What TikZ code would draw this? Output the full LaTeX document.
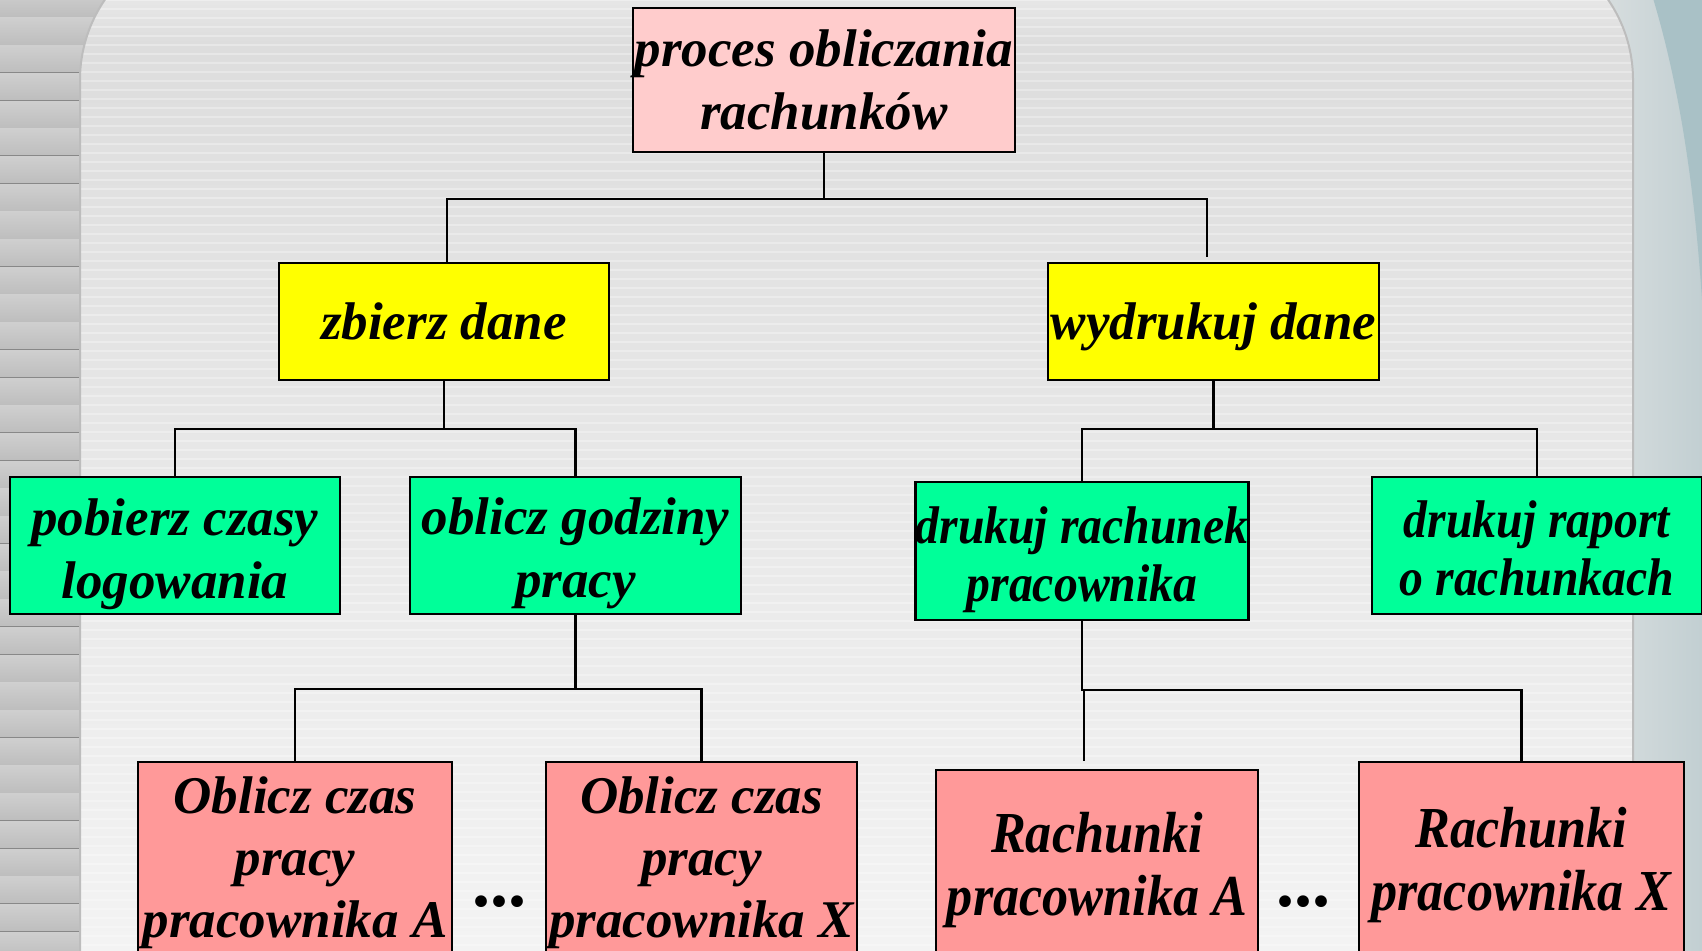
\documentclass[tikz,border=0pt]{standalone}
\usepackage{fontspec}
\setmainfont{Liberation Serif}
\newfontfamily\narrowserif{Liberation Serif}[FakeStretch=0.9]
\usetikzlibrary{calc,fadings}

\definecolor{rootpink}{HTML}{FFCCCC}
\definecolor{leafpink}{HTML}{FF9999}
\definecolor{midyellow}{HTML}{FFFF00}
\definecolor{taskgreen}{HTML}{00FF99}
\definecolor{stripeA}{HTML}{CFCFCF}
\definecolor{stripeB}{HTML}{EFEFEF}
\definecolor{stripeC}{HTML}{BDBDBD}
\definecolor{stripeLine}{HTML}{888888}
\definecolor{panelTop}{HTML}{DDDDDD}
\definecolor{panelBottom}{HTML}{F3F3F3}
\definecolor{panelEdge}{HTML}{BDBDBD}
\definecolor{sideLight}{HTML}{D8DEDF}
\definecolor{sideDark}{HTML}{C2CFD2}
\definecolor{sideBlue}{HTML}{A9C1C6}

\tikzfading[name=fadedown, top color=transparent!0, bottom color=transparent!100]

% invisible strut that pushes a box's text block downwards
\newcommand{\topstrut}[1]{\rule{0pt}{#1}}

\tikzset{
  box/.style={draw=black, line width=1.4pt, inner sep=0pt, align=center,
    font=\bfseries\itshape\fontsize{26.5}{31.5}\selectfont},
  narrowbox/.style={box, font=\narrowserif\bfseries\itshape\fontsize{26.5}{29}\selectfont},
  billbox/.style={box, font=\narrowserif\bfseries\itshape\fontsize{29}{31.5}\selectfont},
  conn/.style={draw=black, line width=1.2pt},
  ellipsis/.style={anchor=base, inner sep=0pt, font=\bfseries\fontsize{36}{38}\selectfont},
}

\begin{document}
\begin{tikzpicture}[x=0.5pt, y=-0.5pt]
\useasboundingbox (0,0) rectangle (1702,951);
\clip (0,0) rectangle (1702,951);

% ---------- backdrop ----------
\fill[stripeA] (0,0) rectangle (1702,951);
% ribbed band on the left
\foreach \i in {0,...,35} {
  \pgfmathsetmacro\ya{18+27.7*(\i-1)}
  \fill[top color=stripeA, middle color=stripeB, bottom color=stripeC]
    (0,\ya) rectangle (120,\ya+27.7);
  \draw[stripeLine, line width=1pt] (0,\ya+27.7) -- (120,\ya+27.7);
}
% bluish band on the right
\fill[left color=sideLight, right color=sideDark] (1600,0) rectangle (1702,951);
\fill[sideBlue] (1652,-5) .. controls (1678,80) and (1694,180) .. (1702,300)
  -- (1710,300) -- (1710,-5) -- cycle;
% rounded panel
\begin{scope}
  \clip[rounded corners=71pt] (80,1200) -- (80,-62) -- (1633,-62) -- (1633,1200) -- cycle;
  \fill[top color=panelTop, bottom color=panelBottom] (80,40) rectangle (1633,951);
  \fill[panelTop] (80,-62) rectangle (1633,41);
  \foreach \k in {0,...,106} {
    \draw[white, opacity=0.3, line width=0.7pt] (80,\k*9) -- (1633,\k*9);
  }
  \fill[white, opacity=0.7, path fading=fadedown] (80,-62) rectangle (1633,45);
\end{scope}
\draw[panelEdge, line width=1pt, rounded corners=71pt]
  (80,1200) -- (80,-62) -- (1633,-62) -- (1633,1200);

% ---------- boxes ----------
\node[box, fill=rootpink, minimum width=191pt, minimum height=72pt] (root) at (824,80)
  {proces obliczania\\rachunków};

\node[box, fill=midyellow, minimum width=165pt, minimum height=58.5pt] (collect) at (444,321.5)
  {zbierz dane};
\node[box, fill=midyellow, minimum width=165.5pt, minimum height=58.5pt]
  (print) at (1213.5,321.5) {\topstrut{23.5pt}wydrukuj dane};

\node[box, fill=taskgreen, minimum width=165pt, minimum height=68.5pt]
  (fetch) at (175,545.5) {\topstrut{26.7pt}pobierz czasy\\logowania};
\node[box, fill=taskgreen, minimum width=165.5pt, minimum height=68.5pt]
  (hours) at (575.5,545.5) {\topstrut{26.7pt}oblicz godziny\\pracy};
\node[narrowbox, fill=taskgreen, minimum width=165pt, minimum height=69pt]
  (bill) at (1082,551) {\topstrut{26.7pt}drukuj rachunek\\pracownika};
\node[narrowbox, fill=taskgreen, minimum width=165pt, minimum height=68.5pt]
  (report) at (1537,545.5) {\topstrut{21.3pt}drukuj raport\\o rachunkach};

\node[box, fill=leafpink, minimum width=157pt, minimum height=101pt,
  font=\bfseries\itshape\fontsize{26.5}{31}\selectfont] (timeA) at (295,863)
  {Oblicz czas\\pracy\\pracownika A};
\node[box, fill=leafpink, minimum width=155.5pt, minimum height=101pt,
  font=\bfseries\itshape\fontsize{26.5}{31}\selectfont] (timeX) at (701.5,863)
  {Oblicz czas\\pracy\\pracownika X};
\node[billbox, fill=leafpink, minimum width=161pt, minimum height=94.5pt]
  (billA) at (1097,864.5) {\topstrut{25.2pt}Rachunki\\pracownika A};
\node[billbox, fill=leafpink, minimum width=162.5pt, minimum height=97pt]
  (billX) at (1521.5,859) {\topstrut{26.4pt}Rachunki\\pracownika X};

\node[ellipsis] (dotsL) at (499,906) {...};
\node[ellipsis] (dotsR) at (1303,906) {...};

% ---------- connectors ----------
\coordinate (busRoot) at (824,199);
\draw[conn] (root.south) -- (busRoot);
\draw[conn] ($(collect.north)+(3,0)$) |- (busRoot) -| ($(print.north)+(-6.5,-5)$);

\coordinate (busCollect) at (444,429);
\draw[conn] (collect.south) -- (busCollect);
\draw[conn] (fetch.north) |- (busCollect) -| (hours.north);

\coordinate (busPrint) at (1213.5,429);
\draw[conn] (print.south) -- (busPrint);
\draw[conn] (bill.north) |- (busPrint) -| (report.north);

\coordinate (busHours) at (575.5,689);
\draw[conn] (hours.south) -- (busHours);
\draw[conn] (timeA.north) |- (busHours) -| (timeX.north);

\coordinate (busBill) at (1082,690);
\coordinate (billAtop) at ($(bill.south |- billA.north)+(2,-8)$);
\draw[conn] (bill.south) -- (busBill) -| (billAtop);
\draw[conn] (busBill) -| (billX.north);
\end{tikzpicture}
\end{document}
